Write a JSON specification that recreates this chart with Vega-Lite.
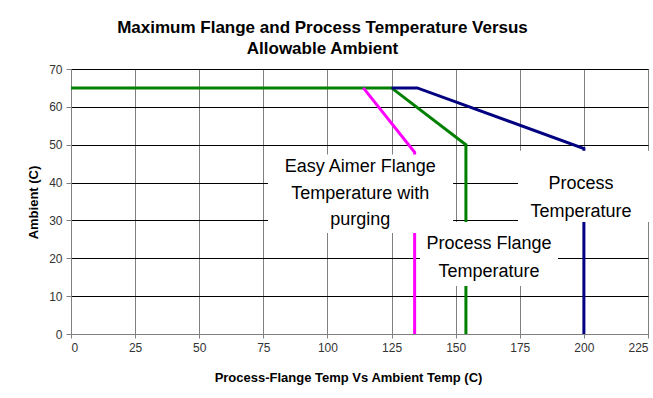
{
  "$schema": "https://vega.github.io/schema/vega-lite/v6.json",
  "width": 577,
  "height": 265,
  "autosize": {"type": "none"},
  "padding": {"left": 71, "top": 69, "right": 5, "bottom": 64},
  "background": "white",
  "title": {
    "text": ["Maximum Flange and Process Temperature Versus", "Allowable Ambient"],
    "font": "Liberation Sans",
    "fontSize": 17,
    "fontWeight": "bold",
    "lineHeight": 21,
    "color": "#000000",
    "anchor": "middle",
    "dx": -37,
    "offset": 5
  },
  "config": {
    "view": {"stroke": "#808080", "strokeWidth": 1},
    "axis": {
      "labelFont": "Liberation Sans",
      "labelFontSize": 12,
      "labelColor": "#333333",
      "labelOverlap": false,
      "titleFont": "Liberation Sans",
      "titleFontSize": 13,
      "titleFontWeight": "bold",
      "titleColor": "#000000",
      "domainColor": "#808080",
      "tickColor": "#808080",
      "tickSize": 5
    }
  },
  "datasets": {
    "lines": [
      {"series": "Process Flange", "i": 1, "x": 0, "y": 65},
      {"series": "Process Flange", "i": 2, "x": 125, "y": 65},
      {"series": "Process Flange", "i": 3, "x": 154, "y": 50},
      {"series": "Process Flange", "i": 4, "x": 154, "y": 0},
      {"series": "Process", "i": 1, "x": 125, "y": 65},
      {"series": "Process", "i": 2, "x": 135, "y": 65},
      {"series": "Process", "i": 3, "x": 200, "y": 49},
      {"series": "Process", "i": 4, "x": 200, "y": 0},
      {"series": "Easy Aimer", "i": 1, "x": 114, "y": 65},
      {"series": "Easy Aimer", "i": 2, "x": 134, "y": 48},
      {"series": "Easy Aimer", "i": 3, "x": 134, "y": 0}
    ],
    "boxes": [
      {"label": "Easy Aimer", "x": 76.8, "x2": 149, "y": 47.4, "y2": 26.7},
      {"label": "Process Flange", "x": 136.1, "x2": 189.9, "y": 29.6, "y2": 12.7},
      {"label": "Process", "x": 174.3, "x2": 225.8, "y": 48.4, "y2": 29.6}
    ],
    "labels": [
      {"text": "Easy Aimer Flange", "x": 112.8, "y": 44.2},
      {"text": "Temperature with", "x": 112.8, "y": 37.1},
      {"text": "purging", "x": 112.8, "y": 30.2},
      {"text": "Process Flange", "x": 163.0, "y": 23.9},
      {"text": "Temperature", "x": 163.0, "y": 16.5},
      {"text": "Process", "x": 198.9, "y": 39.5},
      {"text": "Temperature", "x": 198.9, "y": 32.1}
    ]
  },
  "layer": [
    {
      "data": {"name": "lines"},
      "mark": {"type": "line", "strokeWidth": 3, "strokeJoin": "miter"},
      "encoding": {
        "x": {
          "field": "x",
          "type": "quantitative",
          "scale": {"domain": [0, 225], "nice": false, "zero": false},
          "axis": {
            "values": [0, 25, 50, 75, 100, 125, 150, 175, 200, 225],
            "tickCount": 10,
            "title": "Process-Flange Temp Vs Ambient Temp (C)",
            "grid": true,
            "gridColor": "#808080",
            "gridWidth": 1,
            "tickSize": 4,
            "labelPadding": 4,
            "titleX": 277,
            "titleY": 43,
            "titleBaseline": "middle"
          }
        },
        "y": {
          "field": "y",
          "type": "quantitative",
          "scale": {"domain": [0, 70], "nice": false},
          "axis": {
            "values": [0, 10, 20, 30, 40, 50, 60, 70],
            "tickCount": 8,
            "title": "Ambient (C)",
            "grid": true,
            "gridColor": "#000000",
            "gridWidth": 1,
            "labelPadding": 4,
            "titleX": -38,
            "titleY": 133,
            "titleBaseline": "middle"
          }
        },
        "color": {
          "field": "series",
          "type": "nominal",
          "scale": {
            "domain": ["Process Flange", "Process", "Easy Aimer"],
            "range": ["#008000", "#000080", "#FF00FF"]
          },
          "legend": null
        },
        "order": {"field": "i", "type": "quantitative"}
      }
    },
    {
      "data": {"name": "boxes"},
      "mark": {"type": "rect", "fill": "white", "strokeWidth": 0},
      "encoding": {
        "x": {"field": "x", "type": "quantitative"},
        "x2": {"field": "x2"},
        "y": {"field": "y", "type": "quantitative"},
        "y2": {"field": "y2"}
      }
    },
    {
      "data": {"name": "labels"},
      "mark": {"type": "text", "font": "Liberation Sans", "fontSize": 18, "align": "center", "baseline": "middle", "color": "#000000"},
      "encoding": {
        "x": {"field": "x", "type": "quantitative"},
        "y": {"field": "y", "type": "quantitative"},
        "text": {"field": "text", "type": "nominal"}
      }
    }
  ]
}
